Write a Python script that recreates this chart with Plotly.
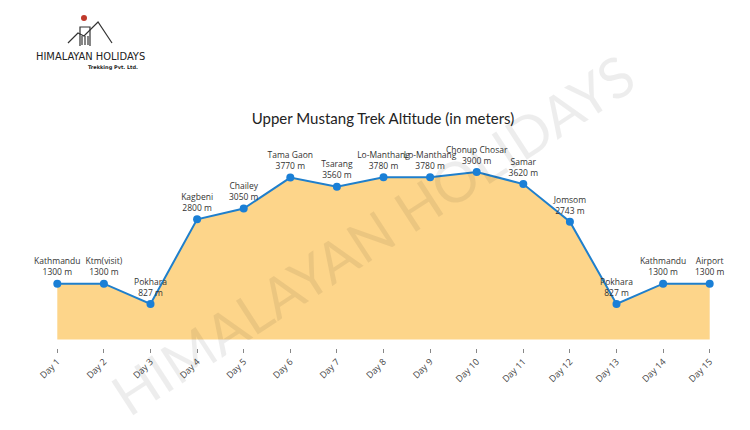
import plotly.graph_objects as go

days = [f"Day {i}" for i in range(1, 16)]
places = ["Kathmandu", "Ktm(visit)", "Pokhara", "Kagbeni", "Chailey", "Tama Gaon",
          "Tsarang", "Lo-Manthang", "Lo-Manthang", "Chonup Chosar", "Samar",
          "Jomsom", "Pokhara", "Kathmandu", "Airport"]
altitudes = [1300, 1300, 827, 2800, 3050, 3770, 3560, 3780, 3780, 3900, 3620,
             2743, 827, 1300, 1300]

labels = [f"{p}<br>{a} m" for p, a in zip(places, altitudes)]

fig = go.Figure()
fig.add_trace(go.Scatter(
    x=days, y=altitudes, mode="lines+markers+text",
    fill="tozeroy", fillcolor="rgb(253,213,138)",
    line=dict(color="#1f7fcc", width=2),
    marker=dict(color="#1a7fd6", size=8),
    text=labels, textposition="top center",
    textfont=dict(family="Open Sans", size=8.5, color="#333"),
    cliponaxis=False, hoverinfo="skip",
))

L, T, W, H = 26, 134, 699, 206

def px(X):
    return (X - 34) / W

def py(Y):
    return (348 - Y) / H

fig.update_layout(
    width=750, height=430,
    margin=dict(l=L, r=750 - L - W, t=T, b=430 - T - H),
    paper_bgcolor="white", plot_bgcolor="white",
    showlegend=False,
    title=dict(text="Upper Mustang Trek Altitude (in meters)", x=px(383), xanchor="center",
               xref="paper", y=1 - (119 - 8) / 430, yanchor="middle",
               font=dict(family="Lato", size=15, color="#222")),
    xaxis=dict(type="category", range=[-0.5, 14.5], showgrid=False, zeroline=False,
               showline=False, ticks="outside", ticklen=4, tickcolor="#888",
               tickangle=-45, tickfont=dict(family="Open Sans", size=9, color="#444")),
    yaxis=dict(range=[-200, 4600], visible=False),
)

# watermark
fig.add_annotation(text="HIMALAYAN HOLIDAYS", xref="paper", yref="paper",
                   x=px(372), y=py(234),
                   showarrow=False, textangle=-33,
                   font=dict(family="Lato", size=56, color="rgba(0,0,0,0.07)"),
                   xanchor="center", yanchor="middle")

# logo text
fig.add_annotation(text="HIMALAYAN HOLIDAYS", xref="paper", yref="paper",
                   x=px(34), y=py(57), xanchor="left", yanchor="middle",
                   showarrow=False,
                   font=dict(family="DejaVu Sans Condensed", size=11, color="#222"))
fig.add_annotation(text="<b>Trekking Pvt. Ltd.</b>", xref="paper", yref="paper",
                   x=px(140), y=py(68), xanchor="right", yanchor="middle",
                   showarrow=False,
                   font=dict(family="DejaVu Sans", size=5, color="#222"))

# simple logo sketch (mountains, house, red sun)
def path(pts):
    return "M " + " L ".join(f"{px(x):.4f},{py(y):.4f}" for x, y in pts)

fig.add_shape(type="path", xref="paper", yref="paper",
              path=path([(68, 43), (78, 33), (84, 36), (98, 22), (112, 43)]),
              line=dict(color="#333", width=1.2))
fig.add_shape(type="path", xref="paper", yref="paper",
              path=path([(80, 46), (80, 27), (90, 27), (90, 46)]),
              line=dict(color="#333", width=1.2))
for xv in (82, 85, 88):
    fig.add_shape(type="line", xref="paper", yref="paper",
                  x0=px(xv), x1=px(xv), y0=py(36), y1=py(45),
                  line=dict(color="#333", width=1.2))
fig.add_shape(type="circle", xref="paper", yref="paper",
              x0=px(81), x1=px(87), y0=py(15), y1=py(21),
              fillcolor="#c0392b", line=dict(width=0))

fig.write_html("out.html")
